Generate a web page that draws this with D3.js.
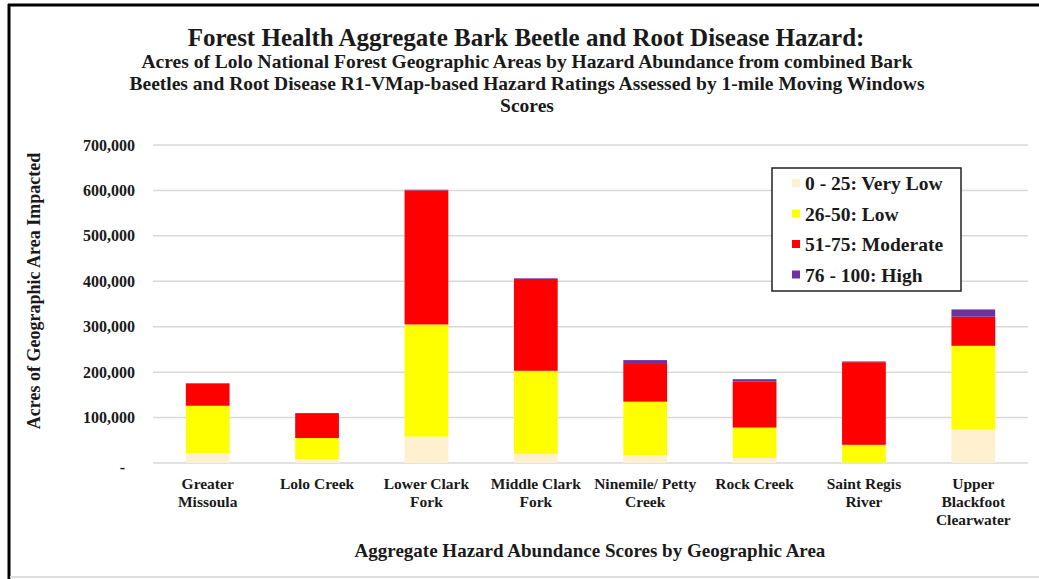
<!DOCTYPE html>
<html>
<head>
<meta charset="utf-8">
<script src="https://cdn.jsdelivr.net/npm/d3@7"></script>
<style>
  body { margin: 0; background: #fff; }
  text { font-family: "Liberation Serif", "Times New Roman", serif; font-weight: bold; fill: #1a1a1a; }
</style>
</head>
<body>
<svg id="chart" width="1039" height="579"></svg>
<script>
// chart data
const areas = ["Greater|Missoula", "Lolo Creek", "Lower Clark|Fork", "Middle Clark|Fork",
  "Ninemile/ Petty|Creek", "Rock Creek", "Saint Regis|River", "Upper|Blackfoot|Clearwater"];
const hazardClasses = ["0 - 25: Very Low", "26-50: Low", "51-75: Moderate", "76 - 100: High"];
const veryLow = [22000, 8000, 58000, 20000, 17000, 11000, 1000, 73000];
const low = [104000, 47000, 247000, 183000, 118000, 67000, 39000, 185000];
const moderate = [48000, 53000, 295000, 202000, 85000, 101000, 182000, 64000];
const high = [1500, 2000, 1500, 1500, 6500, 5500, 1500, 16000];
const yTicks = [0, 100000, 200000, 300000, 400000, 500000, 600000, 700000];
const colors = ["#fff0cf", "#ffff00", "#ff0000", "#7030a0"];

const svg = d3.select("#chart");
const margin = {top: 145, right: 11, bottom: 116, left: 153};
const width = 1039 - margin.left - margin.right;
const height = 579 - margin.top - margin.bottom;

// frame
svg.append("line").attr("x1", 8).attr("x2", 1039).attr("y1", 5).attr("y2", 5)
    .attr("stroke", "#000").attr("stroke-width", 3);
svg.append("line").attr("x1", 9).attr("x2", 9).attr("y1", 4).attr("y2", 579)
    .attr("stroke", "#000").attr("stroke-width", 3);
svg.append("line").attr("x1", 10).attr("x2", 1039).attr("y1", 577).attr("y2", 577)
    .attr("stroke", "#ddd").attr("stroke-width", 2);

const rows = areas.map((a, i) => ({area: a, k0: veryLow[i], k1: low[i], k2: moderate[i], k3: high[i]}));
const stack = d3.stack().keys(["k0", "k1", "k2", "k3"])(rows);

const x = d3.scaleBand().domain(areas).range([0, width]).paddingInner(0.6).paddingOuter(0.3);
const y = d3.scaleLinear().domain([0, 700000]).range([height, 0]);

const g = svg.append("g").attr("transform", "translate(" + margin.left + "," + margin.top + ")");

// grid
g.selectAll(".grid").data(yTicks).enter().append("line")
    .attr("x1", 0).attr("x2", width)
    .attr("y1", d => y(d)).attr("y2", d => y(d))
    .attr("stroke", "#d9d9d9").attr("stroke-width", 1.5);

// y axis
const yAxis = g.append("g")
    .call(d3.axisLeft(y).tickValues(yTicks).tickSize(0).tickPadding(18)
        .tickFormat(d => d === 0 ? "-" : d3.format(",")(d)));
yAxis.select(".domain").remove();
yAxis.selectAll("text").style("font-size", "16px").attr("fill", "#1a1a1a");
yAxis.selectAll(".tick").filter(d => d === 0).select("text").attr("dx", -10).attr("dy", "0.6em");

// bars
g.selectAll(".layer").data(stack).enter().append("g")
    .attr("fill", (d, i) => colors[i])
    .selectAll("rect").data(d => d).enter().append("rect")
    .attr("x", d => x(d.data.area))
    .attr("width", x.bandwidth())
    .attr("y", d => y(d[1]))
    .attr("height", d => y(d[0]) - y(d[1]));

// x labels
const xl = g.selectAll(".xlab").data(areas).enter().append("text")
    .attr("x", d => x(d) + x.bandwidth() / 2)
    .attr("y", height + 26)
    .attr("text-anchor", "middle")
    .style("font-size", "15.5px");
xl.selectAll("tspan").data(d => d.split("|")).enter().append("tspan")
    .attr("x", function() { return d3.select(this.parentNode).attr("x"); })
    .attr("dy", (d, i) => i === 0 ? 0 : 18)
    .text(d => d);

// legend
const lg = svg.append("g").attr("transform", "translate(772,168)");
lg.append("rect").attr("width", 189).attr("height", 123)
    .attr("fill", "#fff").attr("stroke", "#222").attr("stroke-width", 1.5);
hazardClasses.forEach((c, i) => {
  const row = lg.append("g").attr("transform", "translate(20," + (15 + i * 30.5) + ")");
  row.append("rect").attr("x", 0).attr("y", -4).attr("width", 8).attr("height", 8).attr("fill", colors[i]);
  row.append("text").attr("x", 13).attr("y", 7).style("font-size", "19.5px").text(c);
});

// titles
svg.append("text").attr("x", 526).attr("y", 46).attr("text-anchor", "middle")
    .style("font-size", "25px").text("Forest Health Aggregate Bark Beetle and Root Disease Hazard:");
const sub = ["Acres of Lolo National Forest Geographic Areas by Hazard Abundance from combined Bark",
  "Beetles and Root Disease R1-VMap-based Hazard Ratings Assessed by 1-mile Moving Windows",
  "Scores"];
sub.forEach((s, i) => {
  svg.append("text").attr("x", 527).attr("y", 68 + i * 22).attr("text-anchor", "middle")
      .style("font-size", "19.5px").text(s);
});

svg.append("text").attr("x", 590).attr("y", 557).attr("text-anchor", "middle")
    .style("font-size", "19px").text("Aggregate Hazard Abundance Scores by Geographic Area");

svg.append("text").attr("transform", "translate(40,291) rotate(-90)").attr("text-anchor", "middle")
    .style("font-size", "18px").text("Acres  of Geographic Area Impacted");
</script>
</body>
</html>
